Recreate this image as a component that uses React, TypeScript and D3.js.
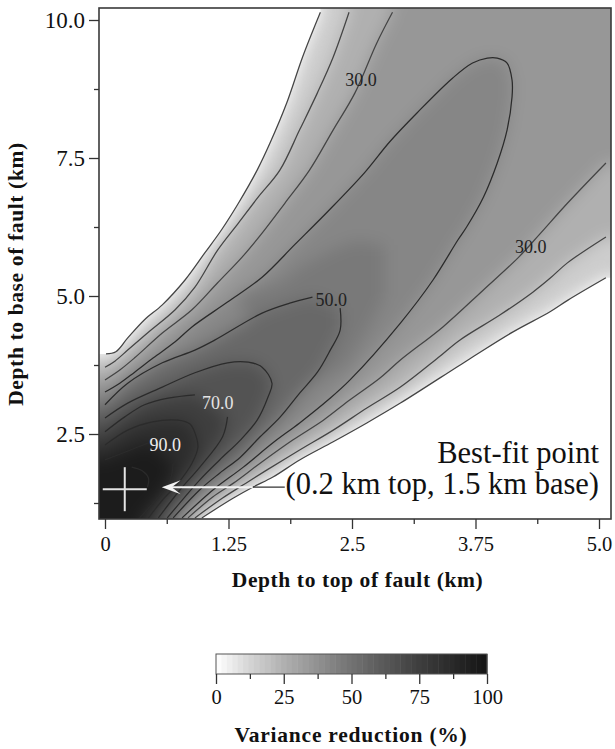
import React, { useEffect, useRef } from 'react'
import * as d3 from 'd3'

type Pt = [number, number] | null

// contours: [depth to top km, depth to base km], null = gap under a label
const c10Upper: Pt[] = [[0.01,3.95],[0.11,3.99],[0.23,4.24],[0.40,4.57],[0.58,4.84],[0.81,5.29],[1.01,5.78],[1.18,6.20],[1.35,6.68],[1.54,7.28],[1.67,7.77],[1.84,8.50],[2.00,9.33],[2.18,10.14]]
const c10Lower: Pt[] = [[5.07,5.33],[4.69,4.93],[4.50,4.71],[4.13,4.35],[3.69,3.86],[2.99,3.06],[2.65,2.70],[2.31,2.36],[1.97,2.03],[1.70,1.72],[1.50,1.54],[1.30,1.34],[0.98,0.98]]
const c20Upper: Pt[] = [[0,3.71],[0.10,3.82],[0.23,4.02],[0.43,4.33],[0.71,4.75],[0.91,5.16],[1.14,5.83],[1.35,6.32],[1.55,6.79],[1.77,7.28],[1.97,8.01],[2.15,8.68],[2.31,9.33],[2.47,10.14]]
const c20Lower: Pt[] = [[5.07,6.07],[4.68,5.60],[4.51,5.33],[4.33,5.07],[4.00,4.66],[3.59,4.20],[3.37,3.88],[2.99,3.35],[2.65,2.97],[2.31,2.57],[1.97,2.21],[1.64,1.85],[1.40,1.58],[1.19,1.34],[0.91,0.98]]
const c30Upper: Pt[] = [[0,3.48],[0.15,3.66],[0.30,3.88],[0.58,4.33],[0.88,4.75],[1.14,5.24],[1.39,5.71],[1.59,6.14],[1.82,6.68],[2.07,7.28],[2.31,8.01],[2.53,8.68],[2.75,9.58],[2.91,10.14]]
const c30Lower: Pt[] = [[5.07,7.41],[4.68,6.68],[4.40,6.12],[4.18,5.69],[3.83,5.11],[3.42,4.44],[2.99,3.84],[2.78,3.51],[2.48,3.12],[2.21,2.75],[1.90,2.39],[1.57,1.97],[1.30,1.61],[1.09,1.36],[0.84,0.98]]
const c40: Pt[] = [[0,3.26],[0.15,3.42],[0.30,3.62],[0.49,3.88],[0.71,4.17],[0.88,4.44],[1.24,4.89],[1.59,5.34],[1.92,5.93],[2.26,6.54],[2.63,7.24],[2.88,7.79],[3.16,8.32],[3.52,8.95],[3.72,9.22],[3.87,9.31],[3.97,9.31],[4.07,9.22],[4.12,8.91],[4.12,8.61],[4.07,8.01],[3.97,7.41],[3.83,6.79],[3.66,6.25],[3.57,6.01],[3.32,5.29],[2.99,4.51],[2.48,3.48],[2.26,3.12],[1.97,2.70],[1.70,2.34],[1.40,1.90],[1.13,1.54],[1.01,1.36],[0.78,0.98]]
const c50: Pt[] = [[0,3.03],[0.23,3.42],[0.58,3.79],[0.91,4.02],[1.11,4.20],[1.59,4.69],[1.87,4.87],[2.10,4.98],null,[2.38,4.78],[2.38,4.38],[2.28,4.02],[2.15,3.62],[1.97,3.24],[1.77,2.80],[1.57,2.45],[1.37,2.08],[1.16,1.79],[0.96,1.49],[0.69,0.98]]
const c60: Pt[] = [[0,2.79],[0.23,3.06],[0.58,3.35],[0.91,3.61],[1.24,3.79],[1.45,3.80],[1.59,3.71],[1.69,3.42],[1.65,3.17],[1.54,2.75],[1.37,2.39],[1.16,2.03],[0.96,1.67],[0.63,0.98]]
const c70: Pt[] = [[0,2.54],[0.20,2.81],[0.40,3.03],[0.64,3.15],[0.91,3.21],null,[1.24,2.81],[1.19,2.45],[0.96,1.90],[0.76,1.49],[0.54,0.98]]
const c80: Pt[] = [[0,2.30],[0.23,2.57],[0.48,2.72],[0.74,2.75],[0.86,2.68],[0.91,2.52],[0.94,2.26],[0.88,1.97],[0.74,1.61],[0.58,1.30],[0.44,0.98]]
const c90: Pt[] = [[0,2.03],[0.20,2.17],[0.44,2.34],null,[0.69,1.97],[0.66,1.67],[0.54,1.36],[0.35,0.98]]
const cInner: Pt[] = [[0.27,1.90],[0.38,1.83],[0.44,1.70],[0.43,1.54]]

// slightly darker stepped patch inside the 40-50 band
const patchValue = 47
const patch: [number, number][] = [[1.32,5.00],[1.78,5.24],[1.97,5.51],[2.28,5.82],[2.54,6.00],[2.83,5.92],[2.83,5.00],[2.68,4.46],[2.43,3.74],[1.97,3.30]]

const levels = [10, 20, 30, 40, 50, 60, 70, 80, 90]
const xTicks = [0, 1.25, 2.5, 3.75, 5]
const xMinor = [0.625, 1.875, 3.125, 4.375]
const yTicks = [2.5, 5, 7.5, 10]
const yMinor = [1.25, 3.75, 6.25, 8.75]
const barTicks = [0, 25, 50, 75, 100]
const barMinor = [12.5, 37.5, 62.5, 87.5]
const greyStops = [0, 10, 25, 50, 75, 100]
const greyValues = ['#ffffff', '#dcdcdc', '#b0b0b0', '#727272', '#3e3e3e', '#141414']
const bestFit = [0.2, 1.5]
const contourLabels = [
  { text: '30.0', at: [2.59, 8.91], fill: '#222' },
  { text: '30.0', at: [4.31, 5.89], fill: '#222' },
  { text: '50.0', at: [2.29, 4.94], fill: '#222' },
  { text: '70.0', at: [1.14, 3.07], fill: '#e4e4e4' },
  { text: '90.0', at: [0.61, 2.30], fill: '#eeeeee' },
]

const serif = '"Liberation Serif", serif'

const App = () => {
  const svgRef = useRef<SVGSVGElement>(null)

  useEffect(() => {
    const svg = d3.select(svgRef.current)
    svg.selectAll('*').remove()

    const left = 99, right = 611, top = 8, bottom = 519
    const x = d3.scaleLinear().domain([0, 5]).range([105, 599])
    const y = d3.scaleLinear().domain([1.25, 10]).range([503, 20])
    const grey = d3.scaleLinear<string>().domain(greyStops).range(greyValues)

    const defs = svg.append('defs')
    const soft = defs.append('filter').attr('id', 'soft')
      .attr('filterUnits', 'userSpaceOnUse')
      .attr('x', 0).attr('y', 0).attr('width', 615).attr('height', 749)
      .attr('color-interpolation-filters', 'sRGB')
    soft.append('feGaussianBlur').attr('stdDeviation', 8)
    const scan = defs.append('filter').attr('id', 'scan')
      .attr('filterUnits', 'userSpaceOnUse')
      .attr('x', 0).attr('y', 0).attr('width', 615).attr('height', 749)
      .attr('color-interpolation-filters', 'sRGB')
    scan.append('feGaussianBlur').attr('stdDeviation', 0.4)

    const line = d3.line<Pt>()
      .defined(d => d != null)
      .x(d => x(d![0]))
      .y(d => y(d![1]))
      .curve(d3.curveCatmullRom)

    // region of value >= level, closed along the box given by pad (px)
    const region = (upper: Pt[], lower: Pt[] | null, pad: number) => {
      const x0 = x.invert(left - pad), x1 = x.invert(right + pad)
      const y0 = y.invert(bottom + pad), y1 = y.invert(top - pad)
      const a = upper.filter(d => d != null) as [number, number][]
      const pts: [number, number][] = [[x0, a[0][1]], ...a]
      let last = a[a.length - 1]
      if (lower) {
        const b = lower as [number, number][]
        pts.push([last[0], y1], [x1, y1], [x1, b[0][1]], ...b)
        last = b[b.length - 1]
      }
      pts.push([last[0], y0], [x0, y0])
      return pts
    }
    const polyLine = d3.line<[number, number]>().x(d => x(d[0])).y(d => y(d[1]))

    const contours: { level: number, upper: Pt[], lower: Pt[] | null }[] = [
      { level: levels[0], upper: c10Upper, lower: c10Lower },
      { level: levels[1], upper: c20Upper, lower: c20Lower },
      { level: levels[2], upper: c30Upper, lower: c30Lower },
      { level: levels[3], upper: c40, lower: null },
      { level: levels[4], upper: c50, lower: null },
      { level: levels[5], upper: c60, lower: null },
      { level: levels[6], upper: c70, lower: null },
      { level: levels[7], upper: c80, lower: null },
      { level: levels[8], upper: c90, lower: null },
    ]

    defs.append('clipPath').attr('id', 'field')
      .append('path').attr('d', polyLine(region(c10Upper, c10Lower, 0)))

    const field = svg.append('g').attr('clip-path', 'url(#field)')
      .append('g').attr('filter', 'url(#soft)')
    contours.forEach(c => {
      field.append('path')
        .attr('d', polyLine(region(c.upper, c.lower, 30)))
        .attr('fill', grey(c.level + (c.level === 40 ? 2 : 5)))
      if (c.level === 40) {
        field.append('path')
          .attr('d', polyLine(patch))
          .attr('fill', grey(patchValue))
      }
    })

    // contour lines
    const lines = svg.append('g').attr('filter', 'url(#scan)')
      .attr('fill', 'none').attr('stroke-width', 1.25).attr('stroke-linejoin', 'round')
    contours.forEach(c => {
      const stroke = c.level < 40 ? '#444' : '#2b2b2b'
      lines.append('path').attr('d', line(c.upper)).attr('stroke', stroke)
      if (c.lower) lines.append('path').attr('d', line(c.lower)).attr('stroke', stroke)
    })
    lines.append('path').attr('d', line(cInner)).attr('stroke', '#2b2b2b')

    // frame
    svg.append('rect')
      .attr('x', left).attr('y', top)
      .attr('width', right - left).attr('height', bottom - top)
      .attr('fill', 'none').attr('stroke', '#3a3a3a').attr('stroke-width', 1.6)

    const styleAxis = (g: any, size: number) => {
      g.select('.domain').remove()
      g.selectAll('.tick line').attr('stroke', '#333').attr('stroke-width', 1.3)
      g.selectAll('text').attr('font-family', serif).attr('font-size', size).attr('fill', '#111')
    }

    // axes
    const xAxis = svg.append('g').attr('transform', `translate(0,${bottom})`)
      .call(d3.axisBottom(x).tickValues(xTicks).tickSize(10).tickPadding(7)
        .tickFormat((d: any) => (d === 0 ? '0' : d === 5 ? '5.0' : String(d))))
    styleAxis(xAxis, 20.5)
    const xAxisMinor = svg.append('g').attr('transform', `translate(0,${bottom})`)
      .call(d3.axisBottom(x).tickValues(xMinor).tickSize(5).tickFormat(() => ''))
    styleAxis(xAxisMinor, 10)

    const yAxis = svg.append('g').attr('transform', `translate(${left},0)`)
      .call(d3.axisLeft(y).tickValues(yTicks).tickSize(10).tickPadding(4)
        .tickFormat((d: any) => d3.format('.1f')(d)))
    styleAxis(yAxis, 23)
    const yAxisMinor = svg.append('g').attr('transform', `translate(${left},0)`)
      .call(d3.axisLeft(y).tickValues(yMinor).tickSize(5).tickFormat(() => ''))
    styleAxis(yAxisMinor, 10)

    svg.append('text')
      .attr('x', 357.5).attr('y', 587)
      .attr('text-anchor', 'middle')
      .attr('font-family', serif).attr('font-weight', 'bold').attr('font-size', 21.5)
      .attr('letter-spacing', 0.6)
      .attr('fill', '#111')
      .text('Depth to top of fault (km)')
    svg.append('text')
      .attr('transform', 'translate(23,274) rotate(-90)')
      .attr('text-anchor', 'middle')
      .attr('font-family', serif).attr('font-weight', 'bold').attr('font-size', 21.5)
      .attr('letter-spacing', 0.63)
      .attr('fill', '#111')
      .text('Depth to base of fault (km)')

    // contour labels
    svg.append('g').selectAll('text').data(contourLabels).join('text')
      .attr('x', d => x(d.at[0]))
      .attr('y', d => y(d.at[1]))
      .attr('dy', '0.35em')
      .attr('text-anchor', 'middle')
      .attr('font-family', serif).attr('font-size', 18)
      .attr('fill', d => d.fill)
      .text(d => d.text)

    // best-fit marker
    const px = x(bestFit[0]), py = y(bestFit[1])
    const marks = svg.append('g').attr('stroke', '#e4e4e4').attr('stroke-width', 2)
    marks.append('line').attr('x1', px - 22).attr('x2', px + 22).attr('y1', py).attr('y2', py)
    marks.append('line').attr('x1', px).attr('x2', px).attr('y1', py - 22).attr('y2', py + 22)

    const ay = py - 2
    svg.append('line').attr('x1', px + 128).attr('x2', px + 160).attr('y1', ay).attr('y2', ay)
      .attr('stroke', '#333').attr('stroke-width', 1.3)
    svg.append('line').attr('x1', px + 46).attr('x2', px + 128).attr('y1', ay).attr('y2', ay)
      .attr('stroke', '#f2f2f2').attr('stroke-width', 2)
    svg.append('path')
      .attr('d', `M${px + 37},${ay}L${px + 56},${ay - 7}L${px + 47},${ay}L${px + 56},${ay + 7}Z`)
      .attr('fill', '#f2f2f2')

    const note = svg.append('g')
      .attr('font-family', serif).attr('font-size', 30.5).attr('text-anchor', 'end').attr('fill', '#111')
    note.append('text').attr('x', 599).attr('y', 463).text('Best-fit point')
    note.append('text').attr('x', 599).attr('y', 494).text('(0.2 km top, 1.5 km base)')

    // colour bar
    const barX = d3.scaleLinear().domain([0, 100]).range([216, 487])
    const barY = 654, barH = 20
    const steps = d3.range(0, 100, 2)
    svg.append('g').selectAll('rect').data(steps).join('rect')
      .attr('x', d => barX(d))
      .attr('y', barY)
      .attr('width', barX(2) - barX(0) + 0.5)
      .attr('height', barH)
      .attr('fill', d => grey(d + 1))
    svg.append('rect')
      .attr('x', barX(0)).attr('y', barY)
      .attr('width', barX(100) - barX(0)).attr('height', barH)
      .attr('fill', 'none').attr('stroke', '#555').attr('stroke-width', 1)

    const barAxis = svg.append('g').attr('transform', `translate(0,${barY + barH})`)
      .call(d3.axisBottom(barX).tickValues(barTicks).tickSize(10).tickPadding(5)
        .tickFormat((d: any) => String(d)))
    styleAxis(barAxis, 20.5)
    const barAxisMinor = svg.append('g').attr('transform', `translate(0,${barY + barH})`)
      .call(d3.axisBottom(barX).tickValues(barMinor).tickSize(5).tickFormat(() => ''))
    styleAxis(barAxisMinor, 10)

    svg.append('text')
      .attr('x', 351).attr('y', 742)
      .attr('text-anchor', 'middle')
      .attr('font-family', serif).attr('font-weight', 'bold').attr('font-size', 21.5)
      .attr('letter-spacing', 0.77)
      .attr('fill', '#111')
      .text('Variance reduction (%)')
  }, [])

  return (
    <svg
      ref={svgRef}
      width={615}
      height={749}
      style={{ position: 'absolute', left: 0, top: 0, background: '#fff' }}
    />
  )
}

export default App
